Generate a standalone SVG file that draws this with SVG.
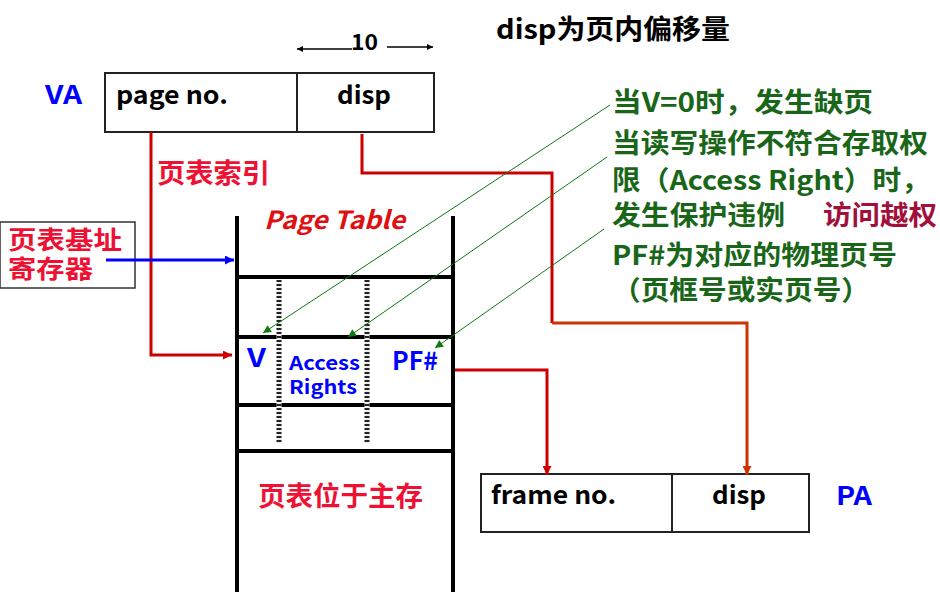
<svg xmlns="http://www.w3.org/2000/svg" width="940" height="592" viewBox="0 0 940 592">
<style>
text{font-family:"Noto Sans CJK SC","Noto Sans",sans-serif;font-weight:bold}
.blk{fill:#000}
.blue{fill:#0000ff}
.red{fill:#ee1133}
.grn{fill:#196619}
.box{fill:#fff;stroke:#222;stroke-width:2}
.tbl{stroke:#000;stroke-width:4;fill:none}
.rl{fill:none;stroke:#cc0000;stroke-width:3}
.ol{fill:none;stroke:#cc3300;stroke-width:3}
.gl{stroke:#117711;stroke-width:1}
</style>
<defs>
<marker id="aBlk" viewBox="0 0 10 10" refX="10" refY="5" markerWidth="6" markerHeight="6" markerUnits="userSpaceOnUse" orient="auto"><path d="M0,0L10,5L0,10z" fill="#000"/></marker>
<marker id="aRed" viewBox="0 0 10 10" refX="10" refY="5" markerWidth="9" markerHeight="9" markerUnits="userSpaceOnUse" orient="auto"><path d="M0,0L10,5L0,10z" fill="#cc0000"/></marker>
<marker id="aOr" viewBox="0 0 10 10" refX="10" refY="5" markerWidth="9" markerHeight="9" markerUnits="userSpaceOnUse" orient="auto"><path d="M0,0L10,5L0,10z" fill="#cc3300"/></marker>
<marker id="aBlue" viewBox="0 0 10 10" refX="10" refY="5" markerWidth="9" markerHeight="9" markerUnits="userSpaceOnUse" orient="auto"><path d="M0,0L10,5L0,10z" fill="#0000ff"/></marker>
<marker id="aGrn" viewBox="0 0 10 10" refX="10" refY="5" markerWidth="10" markerHeight="8" markerUnits="userSpaceOnUse" orient="auto"><path d="M0,0L10,5L0,10z" fill="#117711"/></marker>
</defs>
<rect width="940" height="592" fill="#fff"/>

<g id="title"><text x="496" y="39" font-size="27" class="blk" textLength="234" lengthAdjust="spacingAndGlyphs">disp为页内偏移量</text></g>

<g id="va">
<text x="45" y="104" font-size="26" class="blue" textLength="37" lengthAdjust="spacingAndGlyphs">VA</text>
<rect x="105" y="73" width="329" height="59" class="box"/>
<line x1="297" y1="73" x2="297" y2="132" stroke="#222" stroke-width="2"/>
<text x="116" y="104" font-size="25" class="blk" textLength="112" lengthAdjust="spacingAndGlyphs">page no.</text>
<text x="337" y="104" font-size="25" class="blk" textLength="54" lengthAdjust="spacingAndGlyphs">disp</text>
</g>

<g id="width10">
<text x="351" y="50" font-size="22" class="blk" textLength="27" lengthAdjust="spacingAndGlyphs">10</text>
<line x1="352" y1="49" x2="297" y2="49" stroke="#000" stroke-width="1.5" marker-end="url(#aBlk)"/>
<line x1="387" y1="47" x2="433" y2="47" stroke="#000" stroke-width="1.5" marker-end="url(#aBlk)"/>
</g>

<g id="ptbr">
<rect x="0" y="222" width="135" height="66" fill="#fff" stroke="#333" stroke-width="1.5"/>
<text x="8" y="249" font-size="25" class="red" textLength="114" lengthAdjust="spacingAndGlyphs">页表基址</text>
<text x="8" y="278" font-size="25" class="red" textLength="85" lengthAdjust="spacingAndGlyphs">寄存器</text>
</g>

<g id="index-label"><text x="157" y="183" font-size="27" class="red" textLength="113" lengthAdjust="spacingAndGlyphs">页表索引</text></g>

<g id="pagetable">
<text x="264" y="229" font-size="25" font-style="italic" fill="#dd1111" textLength="141" lengthAdjust="spacingAndGlyphs">Page Table</text>
<line x1="237" y1="216" x2="237" y2="592" class="tbl"/>
<line x1="453" y1="216" x2="453" y2="592" class="tbl"/>
<line x1="235" y1="277" x2="455" y2="277" class="tbl"/>
<line x1="235" y1="337" x2="455" y2="337" class="tbl"/>
<line x1="235" y1="405" x2="455" y2="405" class="tbl"/>
<line x1="235" y1="451" x2="455" y2="451" class="tbl"/>
<g stroke-width="5">
<line x1="279" y1="280" x2="279" y2="443" stroke="#eee"/>
<line x1="279" y1="280" x2="279" y2="443" stroke="#222" stroke-dasharray="2 2"/>
<line x1="367" y1="280" x2="367" y2="443" stroke="#eee"/>
<line x1="367" y1="280" x2="367" y2="443" stroke="#222" stroke-dasharray="2 2"/>
</g>
<text x="247" y="367" font-size="25" class="blue" textLength="19" lengthAdjust="spacingAndGlyphs">V</text>
<text x="289" y="370" font-size="19" class="blue" textLength="71" lengthAdjust="spacingAndGlyphs">Access</text>
<text x="289" y="394" font-size="19" class="blue" textLength="68" lengthAdjust="spacingAndGlyphs">Rights</text>
<text x="392" y="370" font-size="25" class="blue" textLength="46" lengthAdjust="spacingAndGlyphs">PF#</text>
<text x="258" y="506" font-size="27" class="red" textLength="165" lengthAdjust="spacingAndGlyphs">页表位于主存</text>
</g>

<g id="pa">
<rect x="481" y="474" width="328" height="58" class="box"/>
<line x1="672" y1="474" x2="672" y2="532" stroke="#222" stroke-width="2"/>
<text x="491" y="504" font-size="25" class="blk" textLength="125" lengthAdjust="spacingAndGlyphs">frame no.</text>
<text x="712" y="504" font-size="25" class="blk" textLength="54" lengthAdjust="spacingAndGlyphs">disp</text>
<text x="836" y="505" font-size="26" class="blue" textLength="36" lengthAdjust="spacingAndGlyphs">PA</text>
</g>

<g id="notes">
<text x="612" y="112" font-size="27" class="grn" textLength="261" lengthAdjust="spacingAndGlyphs">当V=0时，发生缺页</text>
<text x="612" y="153" font-size="27" class="grn" textLength="316" lengthAdjust="spacingAndGlyphs">当读写操作不符合存取权</text>
<text x="612" y="190" font-size="27" class="grn" textLength="318" lengthAdjust="spacingAndGlyphs">限（Access Right）时，</text>
<text x="612" y="225" font-size="27" class="grn" textLength="173" lengthAdjust="spacingAndGlyphs">发生保护违例</text>
<text x="823" y="225" font-size="27" fill="#a0103a" textLength="114" lengthAdjust="spacingAndGlyphs">访问越权</text>
<text x="612" y="265" font-size="27" class="grn" textLength="285" lengthAdjust="spacingAndGlyphs">PF#为对应的物理页号</text>
<text x="612" y="300" font-size="27" class="grn" textLength="258" lengthAdjust="spacingAndGlyphs">（页框号或实页号）</text>
</g>

<g id="connectors">
<polyline points="151,132 151,355 232,355" class="rl" marker-end="url(#aRed)"/>
<line x1="106" y1="260" x2="234" y2="260" stroke="#0000ff" stroke-width="3" marker-end="url(#aBlue)"/>
<polyline points="362,134 362,173 552,173 552,323" class="rl"/>
<polyline points="552,323 747,323 747,475" class="ol" marker-end="url(#aOr)"/>
<polyline points="455,370 547,370 547,475" class="rl" marker-end="url(#aRed)"/>
<line x1="610" y1="105" x2="263" y2="333" class="gl" marker-end="url(#aGrn)"/>
<line x1="607" y1="157" x2="348" y2="337" class="gl" marker-end="url(#aGrn)"/>
<line x1="604" y1="229" x2="435" y2="348" class="gl" marker-end="url(#aGrn)"/>
</g>
</svg>
